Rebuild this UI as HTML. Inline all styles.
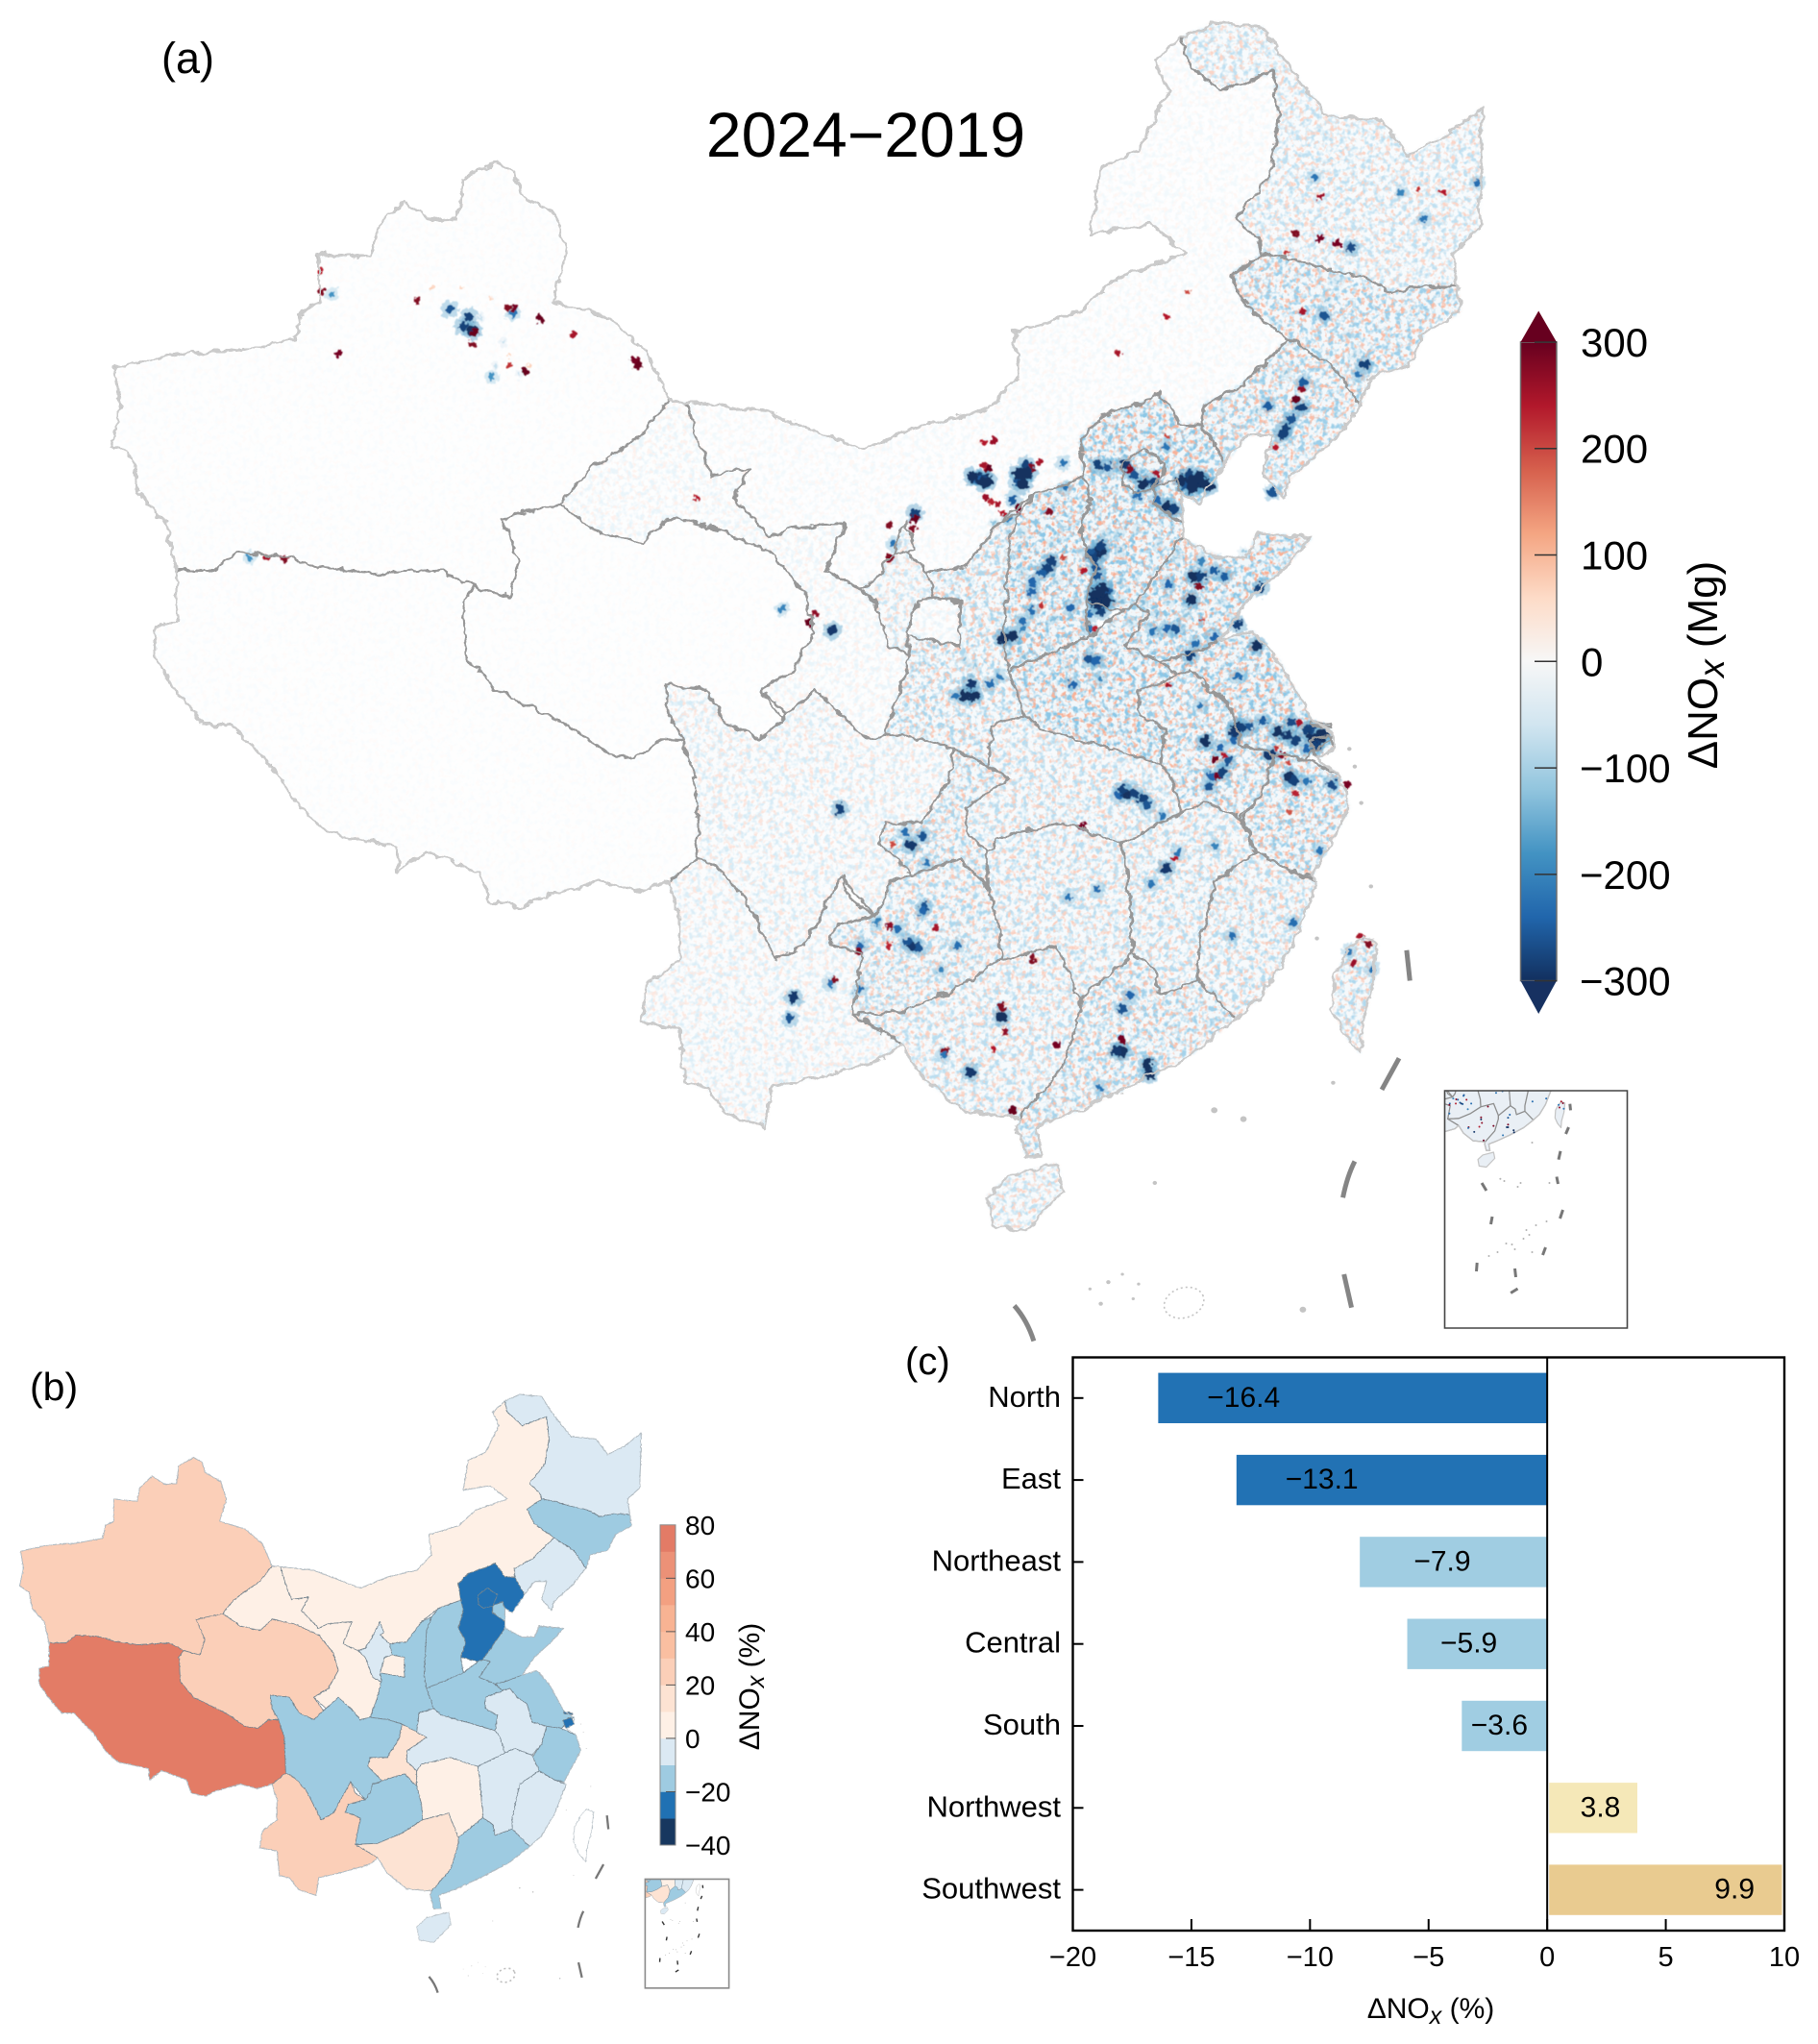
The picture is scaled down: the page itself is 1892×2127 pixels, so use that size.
<!DOCTYPE html>
<html lang="en">
<head>
<meta charset="utf-8">
<title>2024−2019 change in NOx emissions over China</title>
<style>
html,body{margin:0;padding:0;background:#fff;width:1892px;height:2127px;overflow:hidden}
svg{display:block}
text{font-family:"Liberation Sans",Arial,sans-serif;fill:#000}
.nss{vector-effect:non-scaling-stroke}
</style>
</head>
<body>
<svg id="figure" xmlns="http://www.w3.org/2000/svg" width="1892" height="2127" viewBox="0 0 1892 2127">
<defs>
<linearGradient id="cbar-gradient" x1="0" y1="0" x2="0" y2="1">
<stop offset="0" stop-color="#67001f"/><stop offset=".1" stop-color="#b2182b"/><stop offset=".2" stop-color="#d6604d"/><stop offset=".3" stop-color="#f4a582"/><stop offset=".4" stop-color="#fddbc7"/><stop offset=".5" stop-color="#f7f7f7"/><stop offset=".6" stop-color="#d1e5f0"/><stop offset=".7" stop-color="#92c5de"/><stop offset=".8" stop-color="#4393c3"/><stop offset=".9" stop-color="#2166ac"/><stop offset="1" stop-color="#12305f"/>
</linearGradient>
<filter id="speckle-blue" x="0" y="0" width="100%" height="100%" color-interpolation-filters="sRGB">
<feTurbulence type="fractalNoise" baseFrequency="0.17" numOctaves="2" seed="4"/>
<feColorMatrix type="matrix" values="0 0 0 0 .55  0 0 0 0 .78  0 0 0 0 .90  3.8 0 0 0 -1.7"/>
</filter>
<filter id="speckle-red" x="0" y="0" width="100%" height="100%" color-interpolation-filters="sRGB">
<feTurbulence type="fractalNoise" baseFrequency="0.19" numOctaves="2" seed="11"/>
<feColorMatrix type="matrix" values="0 0 0 0 .97  0 0 0 0 .70  0 0 0 0 .60  0 4 0 0 -2.1"/>
</filter>
<filter id="soft-mask" x="-5%" y="-5%" width="110%" height="110%"><feGaussianBlur stdDeviation="1.5"/></filter>
<filter id="rough-hotspots" x="0" y="0" width="100%" height="100%" filterUnits="objectBoundingBox">
<feTurbulence type="fractalNoise" baseFrequency="0.22" numOctaves="2" seed="7" result="n"/>
<feDisplacementMap in="SourceGraphic" in2="n" scale="9" xChannelSelector="R" yChannelSelector="G"/>
<feGaussianBlur stdDeviation="0.6"/>
</filter>
<filter id="rough-lines-a" x="-3%" y="-3%" width="106%" height="106%">
<feTurbulence type="fractalNoise" baseFrequency="0.09" numOctaves="3" seed="3" result="n"/>
<feDisplacementMap in="SourceGraphic" in2="n" scale="9" xChannelSelector="R" yChannelSelector="G"/>
</filter>
<filter id="rough-lines-b" x="-3%" y="-3%" width="106%" height="106%">
<feTurbulence type="fractalNoise" baseFrequency="0.16" numOctaves="2" seed="3" result="n"/>
<feDisplacementMap in="SourceGraphic" in2="n" scale="4" xChannelSelector="R" yChannelSelector="G"/>
</filter>
<mask id="speckle-mask" maskUnits="userSpaceOnUse" x="0" y="0" width="1892" height="1420"><g id="speckle-mask-shapes" filter="url(#soft-mask)"></g></mask>
<clipPath id="inset-clip"><rect x="0" y="0" width="190" height="247"/></clipPath>
</defs>

<g id="panel-a">
<g mask="url(#speckle-mask)">
<rect x="0" y="0" width="1892" height="1420" fill="#e6eff6" opacity=".5"/>
<rect x="0" y="0" width="1892" height="1420" filter="url(#speckle-blue)"/>
<rect x="0" y="0" width="1892" height="1420" filter="url(#speckle-red)"/>
</g>
<g id="hotspots" filter="url(#rough-hotspots)"></g>
<g id="map-a-borders"></g>
<g id="inset-a" transform="translate(1503.5 1135)"></g>
</g>

<text x="168" y="76" font-size="45">(a)</text>
<text x="901" y="163" font-size="66" text-anchor="middle">2024−2019</text>

<g id="cbar-a"></g>
<text transform="translate(1787 692) rotate(-90)" font-size="44" text-anchor="middle">ΔNO<tspan font-style="italic" dy="7" font-size="37">x</tspan><tspan dy="-7"> (Mg)</tspan></text>

<text x="31" y="1457" font-size="41">(b)</text>
<g id="map-b" transform="matrix(0.5102 0 0 0.4636 0 1400)"></g>
<g id="inset-b" transform="translate(671.4 1955.4) scale(0.459)"></g>
<g id="cbar-b"></g>
<text transform="translate(790 1755) rotate(-90)" font-size="30" text-anchor="middle">ΔNO<tspan font-style="italic" dy="5" font-size="25">x</tspan><tspan dy="-5"> (%)</tspan></text>

<text x="942" y="1430" font-size="40">(c)</text>
<g id="chart-c"></g>
</svg>

<script>
/* ---------- panel (c) data ---------- */
const regionNames = ["North","East","Northeast","Central","South","Northwest","Southwest"];
const regionChange = [-16.4,-13.1,-7.9,-5.9,-3.6,3.8,9.9];
const regionTicks = [-20,-15,-10,-5,0,5,10];

/* ---------- panel (b) data ---------- */
const provinceNames = ["xinjiang","tibet","qinghai","gansu","inner-mongolia","heilongjiang","jilin","liaoning","hebei","beijing","tianjin","shanxi","shaanxi","ningxia","henan","shandong","jiangsu","shanghai","anhui","zhejiang","hubei","chongqing","sichuan","yunnan","guizhou","hunan","guangxi","guangdong","jiangxi","fujian","hainan","taiwan"];
const provinceChange = [25,75,25,5,5,-5,-15,-5,-25,-25,-15,-15,-15,-5,-15,-15,-15,-25,-5,-15,-5,15,-15,25,-15,5,15,-15,-5,-5,-5,null];
const percentTicks = [80,60,40,20,0,-20,-40];
const emissionTicks = [300,200,100,0,-100,-200,-300];

/* ---------- panel (a) mean speckle strength per province, 0..1 ---------- */
const provinceSpeckle = [.06,.03,.04,.18,.12,.55,.85,.85,1,1,1,1,.72,.45,1,1,1,1,.9,.9,.6,.75,.35,.3,.7,.6,.6,.8,.62,.65,.55,.7];

/* ---------- panel (a) strong emission-change cells on a 2-unit map grid ---------- */
const hotspotCol = [
510,508,512,514,512,532,534,529,537,541,513,516,522,530,527,519,525,546,554,553,
571,576,585,590,595,600,617,622,627,619,617,602,588,607,611,602,592,607,607,
571,573,567,570,571,572,575,569,572,576,573,567,567,
547,545,542,537,537,537,532,527,522,532,542,557,564,553,570,567,571,573,558,
621,625,624,620,632,637,625,608,612,607,600,626,619,656,644,654,622,632,
505,502,507,497,515,520,476,476,475,667,662,669,
586,582,595,597,605,627,635,637,632,639,636,633,630,629,
644,642,650,657,646,642,665,670,674,672,683,687,682,680,676,661,667,664,670,671,673,680,693,701,674,671,
607,611,613,599,571,632,641,673,687,570,644,625,608,563,708,712,704,714,702,
437,471,474,480,464,482,481,480,463,467,475,472,478,456,448,447,462,487,498,490,
413,411,432,434,447,537,521,521,523,505,492,491,517,550,584,581,584,588,584,597,598,556,572,527,
687,674,687,696,703,684,741,751,729,738,769,669,689,678,710,707,677,674,678,660,677,672,668,663,607,582,618,512,517,
246,247,241,244,234,267,217,264,268,281,246,273,265,256,332,330,176,167,173,167,298,363,433,424,421,407,463,465,463,148,139,130,
525,532,550,547,582,592,575,553,562,583,588,562,592,595,608,602,617,635,642,633,647,502,507,568,583,583,578,603,612,517,525,532,548,525,533,547,555,
696,702,690,705,669,654,666,636,
615,620,624,629,620,624,506,511,514,530,535,532,570,574,570,576,573,570,688,685,680,590,584,
225,240,255,250,262,258,270,265,275];
const hotspotRow = [
249,249,249,244,242,248,242,251,244,240,259,261,267,265,260,262,270,266,254,241,
242,243,242,247,252,251,251,252,252,247,253,246,244,264,265,260,258,232,227,
287,287,288,295,300,308,310,311,313,307,318,320,327,
292,296,298,303,308,318,323,331,332,327,315,316,297,290,328,343,344,353,356,
300,300,305,312,297,300,292,304,327,327,328,323,341,306,325,336,335,331,
356,362,362,362,356,352,267,270,275,226,256,223,
413,414,416,419,425,386,389,393,395,396,402,404,404,409,
378,381,378,375,379,385,381,383,385,376,384,385,379,390,376,393,393,389,397,404,406,407,408,408,413,422,
452,447,444,460,463,440,487,480,442,344,352,367,357,430,487,491,501,504,495,
421,433,440,435,439,449,472,474,482,483,492,490,493,480,492,495,492,483,492,505,
519,530,512,510,515,499,529,524,537,558,547,549,546,544,547,547,525,518,541,554,559,467,566,578,
102,121,124,127,129,92,114,100,100,98,95,132,164,162,190,195,202,208,199,211,212,218,224,233,165,184,152,230,229,
172,173,170,165,161,163,156,160,160,166,179,193,190,196,190,187,184,152,153,141,174,259,328,319,324,317,290,283,273,291,290,290,
290,298,303,283,278,275,278,275,287,313,323,313,340,313,313,320,320,313,323,290,287,343,347,337,287,303,323,283,290,272,277,277,322,340,342,337,347,
147,174,156,185,194,214,223,214,
250,250,250,253,254,248,248,251,250,246,246,252,309,306,314,313,284,290,382,388,380,413,411,
150,150,155,165,178,190,195,185,190];
const hotspotValue = [
-300,-250,-280,300,250,-300,-280,-260,280,250,260,230,240,300,-250,250,-200,280,-220,-220,
-280,-260,-290,-260,-300,-280,-300,-300,-300,-280,-260,250,280,-300,-280,-240,-230,-220,200,
-300,-300,-260,-260,-260,-300,-300,-300,-300,-260,-280,-230,-220,
-280,-280,-250,-240,-240,-230,-230,-300,-300,-200,220,-240,240,200,230,-260,-240,-200,-240,
-300,-280,280,-300,-250,-250,-200,-240,-260,-240,-220,200,-280,-280,-280,-300,-230,-240,
-290,-300,-300,-220,-230,-210,-280,300,280,-280,-260,-280,
-300,-240,-280,-260,-220,-300,-240,240,300,-260,-280,290,-240,-260,
-300,-290,-260,-250,-280,-240,-300,-290,-280,-270,-300,-300,-270,-240,250,-290,280,220,200,-300,-280,-220,-270,290,230,190,
-290,240,-220,-220,-230,-200,-230,-230,-220,-240,-230,-220,250,290,250,280,260,-220,-220,
-280,-230,-290,-260,200,-220,-260,-240,270,-230,-290,-260,-260,-200,-240,280,230,250,-230,-200,
-290,-260,-220,280,-230,280,-300,280,270,-290,280,-220,240,290,-300,-290,-260,-240,290,-300,-300,-220,-220,300,
260,280,290,290,-270,-220,-220,240,-200,220,-230,220,-260,250,-280,-220,270,300,-250,-250,-280,-260,-280,240,240,250,200,240,260,
-300,300,-280,-280,-260,-220,280,280,290,300,280,300,220,-180,300,290,290,280,-180,230,250,240,-290,270,300,-200,280,-220,280,280,250,-180,
-120,-130,-110,-120,-130,-110,-120,-100,-110,-130,-120,-110,-120,-130,-120,-140,-120,-110,-130,-100,-110,-130,-120,-130,-140,-130,-120,-110,-120,-120,-110,-120,-130,-120,-130,-110,-120,
-110,-110,-120,-110,-120,-120,-110,-100,
-300,-300,-300,-300,-300,-300,-300,-300,-300,-300,-300,-300,-300,-300,-300,-300,-280,-280,-300,-280,-280,-280,-280,
70,70,70,-70,-70,-70,-70,70,70];

/* ---------- map geometry, in map units ---------- */
const provinceShapes = [
"40,540 48,500 42,462 90,450 130,445 150,445 210,433 215,405 232,395 232,345 280,350 285,320 310,293 335,312 360,310 365,270 395,252 412,262 418,285 450,305 462,345 448,395 500,412 535,445 555,495 530,530 490,560 470,580 455,602 400,615 418,660 408,695 375,685 345,668 280,672 235,665 205,655 155,650 135,668 100,668 90,620 65,590 60,555",
"100,668 135,668 155,650 205,655 235,665 280,672 345,668 375,685 365,700 368,755 395,790 460,825 500,855 525,860 548,840 568,840 580,880 583,960 555,985 525,995 490,985 440,1000 420,1012 390,1005 380,975 330,955 305,975 303,950 240,935 215,910 190,870 150,825 125,825 95,785 80,760 80,725 100,720",
"400,615 455,602 490,630 530,640 555,615 600,625 650,650 680,690 690,730 670,770 640,790 660,820 640,840 610,825 590,790 552,785 555,815 568,840 548,840 525,860 500,855 460,825 395,790 368,755 365,700 375,685 408,695 418,660",
"555,495 572,497 585,545 595,570 630,565 615,595 650,635 668,625 718,620 700,670 730,685 745,700 760,745 778,755 770,790 755,835 735,840 720,820 690,790 665,815 640,790 670,770 690,730 680,690 650,650 600,625 555,615 530,640 490,630 455,602 470,580 490,560 530,530|785,700 800,695 825,700 825,745 775,735",
"572,497 640,505 700,530 735,545 790,520 850,505 880,470 875,425 935,405 970,370 1035,345 1000,315 945,325 955,258 990,240 1018,180 1005,150 1030,125 1035,150 1065,180 1115,160 1120,210 1112,265 1080,310 1100,330 1105,345 1075,368 1090,400 1130,432 1085,480 1050,500 1050,520 1030,520 1010,488 1000,495 955,512 935,535 940,572 895,590 860,620 830,665 795,670 775,650 762,650 745,680 730,685 700,670 718,620 668,625 650,635 615,595 630,565 595,570 585,545",
"1030,125 1060,110 1105,115 1125,150 1165,205 1215,210 1240,245 1275,225 1308,197 1305,320 1280,345 1285,380 1250,378 1225,385 1200,370 1160,360 1130,350 1105,345 1100,330 1080,310 1112,265 1120,210 1115,160 1065,180 1035,150",
"1105,345 1130,350 1160,360 1200,370 1225,385 1250,378 1285,380 1288,405 1255,425 1240,460 1205,470 1195,500 1170,460 1130,432 1090,400 1075,368",
"1130,432 1170,460 1195,500 1170,535 1130,575 1125,595 1105,570 1115,530 1090,530 1070,560 1050,520 1050,500 1085,480",
"1010,488 1030,520 1050,520 1070,560 1045,600 1030,590 1025,575 1005,585 1005,600 1030,620 1030,635 985,705 975,710 940,700 950,665 935,635 945,595 940,572 935,535 955,512 1000,495",
"975,560 995,545 1015,560 1005,585 985,590 975,580",
"1005,585 1025,575 1030,590 1030,620 1005,600",
"945,595 935,635 950,665 940,700 945,735 870,770 865,740 870,640 880,610 895,590 940,572",
"795,670 830,665 860,620 880,610 870,640 865,740 870,770 885,815 855,825 850,868 820,850 790,840 755,835 770,790 778,755 775,735 825,745 825,700 800,695",
"762,650 775,620 783,645 775,650 795,670 800,695 785,700 775,735 778,755 760,745 745,700 730,685 745,680",
"945,735 975,710 985,705 1000,710 977,745 1010,760 1025,775 990,790 990,815 1015,830 1010,865 965,850 900,830 885,815 870,770",
"985,705 1030,635 1065,655 1090,655 1100,630 1150,635 1125,665 1090,700 1065,740 1030,755 1010,760 977,745 1000,710",
"1030,755 1065,740 1095,730 1120,760 1135,790 1150,820 1170,835 1145,860 1115,855 1085,845 1075,805 1055,790 1040,770 1025,775 1010,760",
"1148,842 1165,835 1172,850 1155,860|1150,822 1168,826 1168,829 1150,826",
"1025,775 1040,770 1055,790 1075,805 1085,845 1115,855 1105,895 1085,920 1050,905 1030,915 1020,880 1010,865 1015,830 990,815 990,790",
"1115,855 1145,860 1175,875 1185,910 1165,950 1150,980 1130,975 1100,955 1085,925 1105,895",
"855,825 885,815 900,830 965,850 1010,865 1020,880 1030,915 975,945 945,935 920,925 860,940 850,955 830,935 830,910 870,880 850,868",
"850,868 870,880 830,910 830,935 850,955 850,990 825,962 800,970 780,978 750,945 755,925 790,925 815,880 820,850",
"552,785 590,790 610,825 640,840 665,815 690,790 720,820 735,840 755,835 790,840 820,850 815,880 790,925 755,925 750,945 780,978 760,985 755,1005 745,1020 715,980 695,1020 680,1050 655,1065 625,1000 600,970 583,960 580,880 568,840 555,815",
"555,985 583,960 600,970 625,1000 655,1065 680,1050 695,1020 715,980 725,1005 745,1020 710,1030 705,1048 735,1060 725,1120 770,1150 755,1165 690,1185 650,1195 645,1235 610,1222 590,1195 570,1190 565,1135 530,1128 535,1090 565,1065 565,1020",
"745,1020 755,1005 760,985 780,978 800,970 825,962 850,990 860,1030 862,1065 820,1095 770,1118 725,1120 735,1060 705,1048 710,1030",
"860,940 920,925 945,935 975,945 980,990 985,1060 965,1078 935,1105 915,1050 862,1065 860,1030 850,990 850,955",
"725,1120 770,1118 820,1095 862,1065 915,1050 935,1105 935,1120 920,1175 880,1225 830,1220 790,1185 770,1150",
"935,1105 965,1078 985,1060 1005,1075 1010,1100 1045,1085 1080,1125 1040,1160 980,1195 930,1220 895,1235 900,1265 885,1265 878,1235 880,1225 920,1175 935,1120",
"975,945 1030,915 1050,905 1085,920 1100,955 1060,985 1045,1060 1045,1085 1010,1100 1005,1075 985,1060 980,990",
"1100,955 1130,975 1155,985 1130,1055 1105,1100 1080,1125 1045,1085 1045,1060 1060,985",
"870,1285 915,1272 920,1300 885,1340 855,1335 850,1305",
"1197,1041 1211,1048 1207,1090 1197,1130 1195,1160 1180,1140 1170,1115 1172,1080 1185,1055"];
const chinaOutline = "40,540 48,500 42,462 90,450 130,445 150,445 210,433 215,405 232,395 232,345 280,350 285,320 310,293 335,312 360,310 365,270 395,252 412,262 418,285 450,305 462,345 448,395 500,412 535,445 555,495 572,497 640,505 700,530 735,545 790,520 850,505 880,470 875,425 935,405 970,370 1035,345 1000,315 945,325 955,258 990,240 1018,180 1005,150 1030,125 1060,110 1105,115 1125,150 1165,205 1215,210 1240,245 1275,225 1308,197 1305,320 1280,345 1285,380 1288,405 1255,425 1240,460 1205,470 1195,500 1170,535 1130,575 1125,595 1105,570 1115,530 1090,530 1070,560 1045,600 1030,590 1030,620 1030,635 1065,655 1090,655 1100,630 1150,635 1125,665 1090,700 1065,740 1095,730 1120,760 1135,790 1150,820 1170,835 1172,850 1155,860 1175,875 1185,910 1165,950 1150,980 1155,985 1130,1055 1105,1100 1080,1125 1040,1160 980,1195 930,1220 895,1235 900,1265 885,1265 878,1235 880,1225 830,1220 790,1185 770,1150 755,1165 690,1185 650,1195 645,1235 610,1222 590,1195 570,1190 565,1135 530,1128 535,1090 565,1065 565,1020 555,985 525,995 490,985 440,1000 420,1012 390,1005 380,975 330,955 305,975 303,950 240,935 215,910 190,870 150,825 125,825 95,785 80,760 80,725 100,720 100,668 90,620 65,590 60,555";
const dashShapes = ["M1238,1055 L1241,1086","M1231,1165 L1215,1197","M1190,1270 Q1183,1285 1179,1307","M1180,1385 L1187,1419","M875,1417 Q887,1432 893,1453"];
const smallIslands = ["1060,1218,3","1087,1227,3","1005,1292,2","1142,1421,3","1185,850,2","1190,868,2","1196,905,2","1205,990,2","1155,1043,2","1170,1190,2","962,1393,2","975,1385,1.5","985,1410,1.5","955,1415,2","945,1400,1.5","990,1395,1.5"];
const insetDashes = ["M130.3,13.7 L131,20.4","M129,38 L126,45","M120.5,62.8 L118.5,71.7","M116.5,89.5 L118,97","M123,124 L120,133","M105,163 L102,171","M73,185 L74,194","M76,206 L68.7,210.5","M33.7,179 L33,188","M49.5,131 L48,139","M38.6,96 L43.4,104"];
const insetIslands = ["57.9,91.8","79,96","85,145","106,136","64,159","46,172","91,168","82,154","73,165","91,54","109,96","62,94","76,100","88,150","95,140","70,160","55,168"];

/* ---------- scales ---------- */
const NS = "http://www.w3.org/2000/svg";
const chartLeft = 1116.5, chartRight = 1857, chartTop = 1412.5, chartBottom = 2009;
const xBar = v => chartLeft + (v + 20) / 30 * (chartRight - chartLeft);
const yBar = i => 1453.8 + i * 85.3;
const yEmission = v => 688.3 - v * 1.1078;
const yPercent = v => 1586.8 + (80 - v) * 2.7767;
const xGrid = c => c * 2;
const yGrid = r => r * 2;
const ramp = ["#12305f","#2166ac","#4393c3","#92c5de","#d1e5f0","#f7f7f7","#fddbc7","#f4a582","#d6604d","#b2182b","#67001f"];
const percentBins = ["#17375f","#2071b3","#9ecbe1","#dbe9f3","#fef0e6","#fde3d3","#fbcfb8","#fabfa1","#f8b393","#f3a081","#ec9177","#e37b66"];

function el(parent, tag, attrs, text) {
  const e = document.createElementNS(NS, tag);
  for (const k in attrs) e.setAttribute(k, attrs[k]);
  if (text !== undefined) e.textContent = text;
  parent.appendChild(e);
  return e;
}
function hex(c){return [1,3,5].map(i=>parseInt(c.substr(i,2),16));}
function emissionColor(v){
  const t = Math.max(0, Math.min(.9999, (v + 300) / 600)) * 10, i = Math.floor(t), f = t - i;
  const a = hex(ramp[i]), b = hex(ramp[i + 1]);
  return "rgb(" + a.map((x, k) => Math.round(x + (b[k] - x) * f)).join(",") + ")";
}
function percentColor(v){
  if (v === null) return "#ffffff";
  return percentBins[Math.max(0, Math.min(11, Math.floor((v + 40) / 10)))];
}
function pathOf(shape){
  return shape.split("|").map(s => "M" + s.trim().split(/\s+/).join(" L") + " Z").join(" ");
}
const fmt = v => String(v).replace("-", "\u2212");

/* ---------- panel (a) map ---------- */
const MATRIX_A = "matrix(1.1248 0 0 1.0218 71.4 -89.2)";
const maskGroup = document.getElementById("speckle-mask-shapes");
const maskInner = el(maskGroup, "g", {transform: MATRIX_A});
provinceShapes.forEach((s, i) => {
  const g = Math.round(provinceSpeckle[i] * 255);
  el(maskInner, "path", {d: pathOf(s), fill: "rgb(" + g + "," + g + "," + g + ")"});
});

const hotspotLayer = document.getElementById("hotspots");
hotspotValue.forEach((v, i) => {
  const x = xGrid(hotspotCol[i]), y = yGrid(hotspotRow[i]);
  const m = Math.abs(v) / 300;
  const haloR = v < 0 ? 3 + 7 * m : 1.5 + 2.5 * m;
  const halo = el(hotspotLayer, "circle", {cx: x, cy: y, r: haloR, fill: emissionColor(v * 0.55), opacity: v < 0 ? 0.45 : 0.3});
  
  
});
hotspotValue.forEach((v, i) => {
  const m = Math.abs(v) / 300;
  const coreR = v < 0 ? 1.6 + 4 * m * m : 1.6 + 2.6 * m * m;
  const dot = el(hotspotLayer, "circle", {cx: xGrid(hotspotCol[i]), cy: yGrid(hotspotRow[i]), r: coreR, fill: emissionColor(v)});
  
  
});

function drawBorders(parent, matrix, innerColor, innerW, outerColor, outerW, fillFn, roughId){
  const attrs = {transform: matrix};
  if (roughId) attrs.filter = "url(#" + roughId + ")";
  const g = el(parent, "g", attrs);
  provinceShapes.forEach((s, i) => {
    const isIsland = provinceNames[i] === "hainan" || provinceNames[i] === "taiwan";
    const p = el(g, "path", {d: pathOf(s), fill: fillFn ? fillFn(i) : "none", stroke: isIsland ? outerColor : innerColor, "stroke-width": isIsland ? outerW : innerW, "stroke-linejoin": "round", class: "nss"});
    
    
  });
  const o = el(g, "path", {d: pathOf(chinaOutline), fill: "none", stroke: outerColor, "stroke-width": outerW, "stroke-linejoin": "round", class: "nss"});
  
  
  return g;
}
const bordersParentA = document.getElementById("map-a-borders");
drawBorders(bordersParentA, MATRIX_A, "#979797", 2.4, "#cbcbcb", 2.4, null, "rough-lines-a");
const extrasA = el(bordersParentA, "g", {transform: MATRIX_A});
dashShapes.forEach(d => {
  const p = el(extrasA, "path", {d: d, fill: "none", stroke: "#858585", "stroke-width": 5, class: "nss"});
  
  
});
function drawIslands(parent, color, k){
  smallIslands.forEach(s => {
    const [u, v, r] = s.split(",").map(Number);
    const c = el(parent, "circle", {cx: u, cy: v, r: r * k, fill: color});
    
    
  });
  const ring = el(parent, "ellipse", {cx: 1032, cy: 1414, rx: 19, ry: 15, fill: "none", stroke: color, "stroke-width": 1.6, "stroke-dasharray": "2 3", transform: "rotate(-25 1032 1414)", class: "nss"});
  
  
}
drawIslands(extrasA, "#c4c4c4", 1);

/* ---------- insets ---------- */
const MATRIX_INSET = "matrix(0.2508 0 0 0.2279 -178.6 -225.9)";
function drawInset(parent, stroke, rectStroke, fillFn, dashColor, strokeW, dashW, withHotspots){
  const clip = el(parent, "g", {"clip-path": "url(#inset-clip)"});
  drawBorders(clip, MATRIX_INSET, stroke, strokeW, "#c4c4c4", strokeW, fillFn);
  if (withHotspots) {
    hotspotValue.forEach((v, i) => {
      const d = el(clip, "circle", {cx: xGrid(hotspotCol[i]) * 0.223 - 194.5, cy: yGrid(hotspotRow[i]) * 0.223 - 206, r: 1, fill: emissionColor(v)});
      
      
    });
  }
  insetDashes.forEach(d => {
    const p = el(clip, "path", {d: d, fill: "none", stroke: dashColor, "stroke-width": dashW, class: "nss"});
    
    
  });
  insetIslands.forEach(s => {
    const [x, y] = s.split(",").map(Number);
    const c = el(clip, "circle", {cx: x, cy: y, r: 1, fill: "#b0b0b0"});
    
    
  });
  const r = el(parent, "rect", {x: 0, y: 0, width: 190, height: 247, fill: "none", stroke: rectStroke, "stroke-width": 1.6, class: "nss"});
  
  
}
drawInset(document.getElementById("inset-a"), "#8d8d8d", "#444444", i => "#e9eff5", "#777777", 1.2, 3, true);
drawInset(document.getElementById("inset-b"), "#8494a0", "#8a8a8a", i => percentColor(provinceChange[i]), "#333333", 0.5, 1.4, false);

/* ---------- panel (b) map ---------- */
const mapB = document.getElementById("map-b");
drawBorders(mapB, "", "#76858f", 0.8, "#b9c2c8", 0.8, i => percentColor(provinceChange[i]), "rough-lines-b");
dashShapes.forEach(d => {
  const p = el(mapB, "path", {d: d, fill: "none", stroke: "#777777", "stroke-width": 2.3, class: "nss"});
  
  
});
drawIslands(mapB, "#bdbdbd", 0.5);

/* ---------- colorbar (a) ---------- */
const cbarA = document.getElementById("cbar-a");
const cbTop = yEmission(300), cbBottom = yEmission(-300);
const cbBody = el(cbarA, "rect", {x: 1582.5, y: cbTop, width: 37.5, height: cbBottom - cbTop, fill: "url(#cbar-gradient)", stroke: "#6e6e6e", "stroke-width": 1.5});


const cbUp = el(cbarA, "polygon", {points: "1582.5," + cbTop + " 1620," + cbTop + " 1601.2,323.5", fill: "#67001f"});


const cbDown = el(cbarA, "polygon", {points: "1582.5," + cbBottom + " 1620," + cbBottom + " 1601.2,1055", fill: "#173161"});


emissionTicks.forEach(v => {
  const y = yEmission(v);
  const t = el(cbarA, "line", {x1: 1597, x2: 1620, y1: y, y2: y, stroke: "#333", "stroke-width": 1.5});
  
  
  const l = el(cbarA, "text", {x: v < 0 ? 1644 : 1645, y: y + 15, "font-size": 42}, fmt(v));
  
  
});

/* ---------- colorbar (b) ---------- */
const cbarB = document.getElementById("cbar-b");
percentBins.forEach((c, i) => {
  const low = -40 + i * 10;
  const r = el(cbarB, "rect", {x: 687, y: yPercent(low + 10), width: 16, height: yPercent(low) - yPercent(low + 10) + 0.3, fill: c});
  
  
});
const cbFrame = el(cbarB, "rect", {x: 687, y: yPercent(80), width: 16, height: yPercent(-40) - yPercent(80), fill: "none", stroke: "#8a8a8a", "stroke-width": 1});


percentTicks.forEach(v => {
  const y = yPercent(v);
  if (v !== 80 && v !== -40) {
    const t = el(cbarB, "line", {x1: 693, x2: 703, y1: y, y2: y, stroke: "#555", "stroke-width": 1});
    
    
  }
  const l = el(cbarB, "text", {x: 713, y: y + 10, "font-size": 28}, fmt(v));
  
  
});

/* ---------- panel (c) bars ---------- */
const chart = document.getElementById("chart-c");
function barColor(v){ return v < -10 ? "#2272b4" : v < 0 ? "#a0cde2" : v < 5 ? "#f5e8b8" : "#e9cb90"; }
const BAR_H = 52.4;
regionChange.forEach((v, i) => {
  const y = yBar(i);
  const x0 = xBar(0), x1 = xBar(v);
  const bar = el(chart, "rect", {x: Math.min(x0, x1) + (v > 0 ? 2 : 0), y: y - BAR_H / 2 + 1, width: Math.abs(x1 - x0) - (v > 0 ? 2 : 0), height: BAR_H, fill: barColor(v)});
  
  
  const inset = v < 0 ? 3.6 : 2;
  const share = v < 0 ? 0.56 : 0.59;
  const pos = Math.sign(v) * Math.max(Math.abs(v) - inset, Math.abs(v) * share);
  const lab = el(chart, "text", {x: xBar(pos), y: y + 10, "font-size": 30, "text-anchor": "middle"}, fmt(v.toFixed(1)));
  
  
  const tick = el(chart, "line", {x1: chartLeft, x2: chartLeft + 11, y1: y + 1, y2: y + 1, stroke: "#000", "stroke-width": 2});
  
  
  const name = el(chart, "text", {x: 1104, y: y + 10, "font-size": 31, "text-anchor": "end"}, regionNames[i]);
  
  
});
const zeroLine = el(chart, "line", {x1: xBar(0), x2: xBar(0), y1: chartTop, y2: chartBottom, stroke: "#000", "stroke-width": 2});


const frame = el(chart, "rect", {x: chartLeft, y: chartTop, width: chartRight - chartLeft, height: chartBottom - chartTop, fill: "none", stroke: "#000", "stroke-width": 2.4});


regionTicks.forEach(v => {
  const x = xBar(v);
  const t = el(chart, "line", {x1: x, x2: x, y1: chartBottom, y2: chartBottom - 12, stroke: "#000", "stroke-width": 2});
  
  
  const l = el(chart, "text", {x: x, y: 2046, "font-size": 29, "text-anchor": "middle"}, fmt(v));
  
  
});
const xTitle = el(chart, "text", {x: 1489, y: 2100, "font-size": 30, "text-anchor": "middle"});


el(xTitle, "tspan", {}, "ΔNO");
el(xTitle, "tspan", {"font-style": "italic", dy: 6, "font-size": 25}, "x");
el(xTitle, "tspan", {dy: -6}, " (%)");
</script>
</body>
</html>
